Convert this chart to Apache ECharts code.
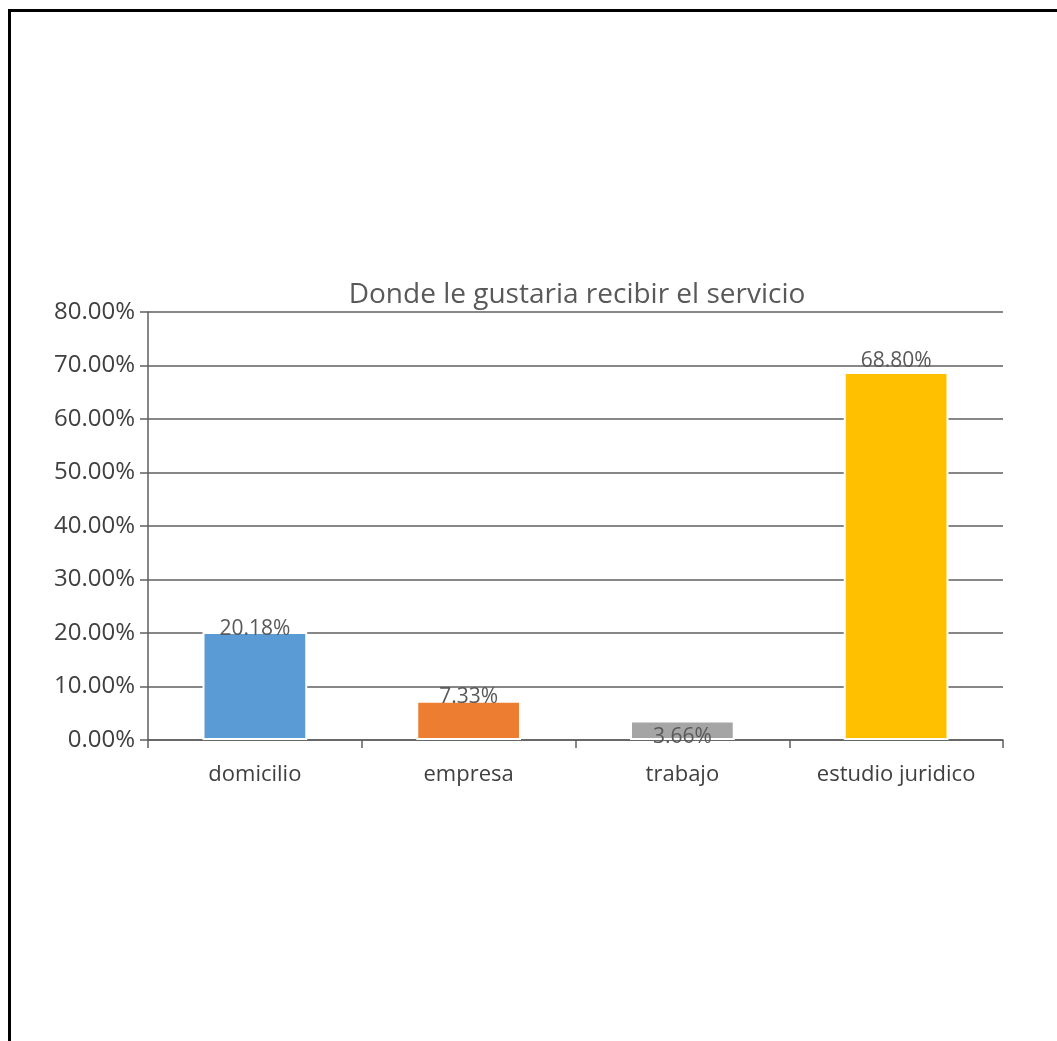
<!DOCTYPE html>
<html><head><meta charset="utf-8">
<script src="https://cdn.jsdelivr.net/npm/echarts@6/dist/echarts.min.js"></script>
<style>html,body{margin:0;padding:0;background:#fff}#c{width:1057px;height:1041px}</style>
</head><body><div id="c"></div>
<script>
const categories = ['domicilio', 'empresa', 'trabajo', 'estudio juridico'];
const values = [20.18, 7.33, 3.66, 68.80];
const colors = ['#5B9BD5', '#ED7D31', '#A5A5A5', '#FFC000'];
const labelDistances = [-7, -7, -27, 0];
const titleText = 'Donde le gustaria recibir el servicio';

const FONT = '"Open Sans", "Noto Sans", sans-serif';
const chart = echarts.init(document.getElementById('c'));
chart.setOption({
  animation: false,
  title: {
    text: titleText, left: 572, textAlign: 'center', top: 276,
    textStyle: { fontFamily: FONT, fontSize: 28, fontWeight: 'normal', color: '#595959' }
  },
  grid: { left: 148, right: 54, top: 312, bottom: 301 },
  graphic: [{
    type: 'rect', silent: true,
    shape: { x: 9.5, y: 10.5, width: 1100, height: 1100 },
    style: { fill: 'none', stroke: '#000', lineWidth: 3 }
  }],
  xAxis: {
    type: 'category', data: categories,
    axisLine: { lineStyle: { color: '#5f5f5f', width: 1.5 } },
    axisTick: { show: true, interval: 0, length: 8, lineStyle: { color: '#5f5f5f', width: 1.5 } },
    axisLabel: { interval: 0, hideOverlap: false, fontFamily: FONT, fontSize: 22, color: '#404040', margin: 24 }
  },
  yAxis: {
    type: 'value', min: 0, max: 80, interval: 10,
    axisLine: { show: true, lineStyle: { color: '#5f5f5f', width: 1.5 } },
    axisTick: { show: true, length: 8, inside: false, lineStyle: { color: '#5f5f5f', width: 1.5 } },
    splitLine: { lineStyle: { color: '#5f5f5f', width: 1.5 } },
    axisLabel: { fontFamily: FONT, fontSize: 24, color: '#404040', margin: 13,
      formatter: v => v.toFixed(2) + '%' }
  },
  series: [{
    type: 'bar', barWidth: '49%',
    data: values.map((v, i) => ({
      value: v,
      itemStyle: { color: colors[i] },
      label: { distance: labelDistances[i] }
    })),
    itemStyle: { borderColor: '#fff', borderWidth: 2 },
    label: { show: true, position: 'top', fontFamily: FONT, fontSize: 21, color: '#595959',
      formatter: p => p.value.toFixed(2) + '%' }
  }]
});
</script></body></html>
